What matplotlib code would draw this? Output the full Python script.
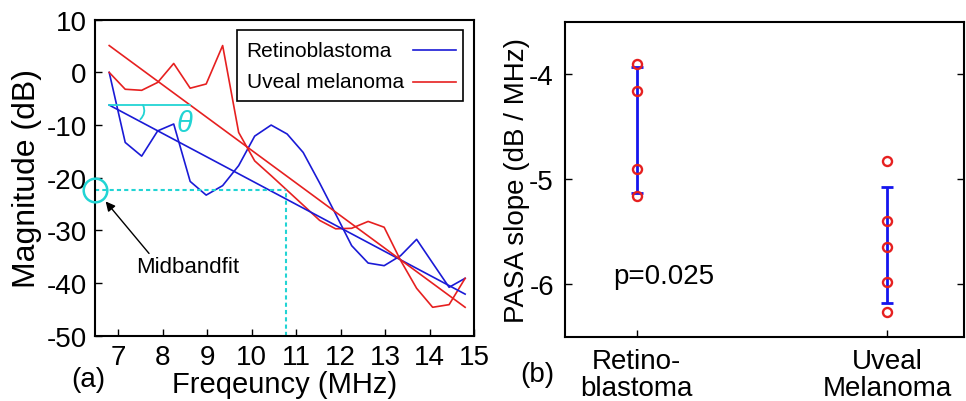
import numpy as np
import matplotlib
matplotlib.use('Agg')
import matplotlib.pyplot as plt
from matplotlib.patches import Rectangle

plt.rcParams['font.family'] = ['Liberation Sans', 'DejaVu Sans']
plt.rcParams['axes.unicode_minus'] = False

# (a) spectra, Magnitude (dB) vs frequency (MHz)
freq = [6.80, 7.16, 7.53, 7.89, 8.25, 8.62, 8.98, 9.35, 9.71, 10.07, 10.44, 10.80,
        11.16, 11.53, 11.89, 12.25, 12.62, 12.98, 13.35, 13.71, 14.07, 14.44, 14.80]
retino = [0.0, -13.3, -15.9, -11.1, -9.8, -20.7, -23.3, -21.5, -17.7, -12.1, -10.0, -11.7,
          -15.2, -21.0, -26.9, -32.9, -36.2, -36.7, -34.8, -31.7, -36.2, -40.8, -39.1]
uveal = [0.0, -3.2, -3.4, -1.9, 1.7, -3.0, -2.2, 5.1, -11.4, -16.8, -19.6, -22.4,
         -25.2, -28.1, -29.7, -29.6, -28.3, -29.4, -35.7, -41.0, -44.6, -44.1, -39.1]
fit_x = [6.8, 14.8]
retino_fit = [-6.2, -42.1]
uveal_fit = [5.1, -44.6]
mid_freq = 10.78
mid_val = -22.3
series_names = ['Retinoblastoma', 'Uveal melanoma']

# (b) PASA slopes (dB / MHz)
groups = ['Retino-\nblastoma', 'Uveal\nMelanoma']
retino_slopes = [-3.90, -4.16, -4.90, -5.16]
uveal_slopes = [-4.83, -5.40, -5.64, -5.98, -6.26]

blue = '#1a1ad6'
red = '#e62020'
cyan = '#22d4d4'

fig = plt.figure(figsize=(9.66, 4.02), dpi=100)
ax1 = fig.add_axes([0.0983, 0.1624, 0.3924, 0.786])
ax2 = fig.add_axes([0.5849, 0.1592, 0.4130, 0.7843])

# ---- panel (a)
ax1.plot(freq, retino, color=blue, lw=1.2)
ax1.plot(freq, uveal, color=red, lw=1.2)
ax1.plot(fit_x, retino_fit, color=blue, lw=1.2)
ax1.plot(fit_x, uveal_fit, color=red, lw=1.2)

# theta marker
ax1.plot([fit_x[0], 8.62], [retino_fit[0], retino_fit[0]], color=cyan, lw=1.3)
ax1.annotate('', xy=(7.50, -8.9), xytext=(7.56, retino_fit[0]),
             arrowprops=dict(arrowstyle='-', color=cyan, lw=1.3,
                             shrinkA=0, shrinkB=0,
                             connectionstyle='arc3,rad=-0.35'))
ax1.text(8.5, -9.6, 'θ', color=cyan, fontsize=21, fontstyle='italic',
         ha='center', va='center')

# midband fit
ax1.plot([6.48, mid_freq], [mid_val, mid_val], color=cyan, lw=1.5, ls=(0, (2, 1.5)))
ax1.plot([mid_freq, mid_freq], [-50, mid_val], color=cyan, lw=1.5, ls=(0, (2, 1.5)))
ax1.plot([6.47], [mid_val], marker='o', ms=17, mfc='none', mec=cyan, mew=1.8,
         clip_on=False, zorder=5)
ax1.annotate('Midbandfit', xy=(6.72, -24.5), xytext=(7.40, -36.9),
             fontsize=16, ha='left', va='center',
             arrowprops=dict(arrowstyle='-|>', color='black', lw=1,
                             shrinkA=0, shrinkB=0, mutation_scale=14,
                             relpos=(0.15, 1.0)))

# legend drawn by hand: text left, line sample right
ax1.add_patch(Rectangle((0.376, 0.744), 0.594, 0.223, transform=ax1.transAxes,
                        fill=True, fc='white', ec='black', lw=1.2, zorder=6))
for i, (name, col) in enumerate(zip(series_names, [blue, red])):
    yy = 0.904 - i * 0.1
    ax1.text(0.400, yy, name, transform=ax1.transAxes, fontsize=15,
             ha='left', va='center', zorder=7)
    ax1.plot([0.838, 0.952], [yy, yy], transform=ax1.transAxes, color=col,
             lw=1.2, zorder=7)

ax1.set_xlim(6.48, 15.0)
ax1.set_ylim(-50, 10)
ax1.set_xticks(range(7, 16))
ax1.set_yticks(range(-50, 11, 10))
ax1.tick_params(direction='in', labelsize=20, length=5, width=1, right=False, pad=6)
ax1.set_xlabel('Freqeuncy (MHz)', fontsize=21, labelpad=0)
ax1.set_ylabel('Magnitude (dB)', fontsize=23)
ax1.yaxis.set_label_coords(-0.14, 0.5)
for s in ax1.spines.values():
    s.set_linewidth(1.5)

# ---- panel (b)
xs = [1, 2]
for x, vals in zip(xs, [retino_slopes, uveal_slopes]):
    m = np.mean(vals)
    sd = np.std(vals, ddof=1)
    ax2.errorbar([x], [m], yerr=[sd], color='#1515ee', lw=2, capsize=4, capthick=2,
                 fmt='none', zorder=2)
    ax2.plot([x] * len(vals), vals, ls='none', marker='o', ms=6.5, mfc='none',
             mec=red, mew=1.7, zorder=3)

ax2.text(0.906, -5.92, 'p=0.025', fontsize=20, ha='left', va='center')
ax2.set_xlim(0.714, 2.306)
ax2.set_ylim(-6.5, -3.5)
ax2.set_xticks(xs)
ax2.set_xticklabels(groups, fontsize=20, linespacing=1.05)
ax2.set_yticks([-6, -5, -4])
ax2.tick_params(direction='in', labelsize=20, length=5, width=1, right=True, pad=8)
ax2.set_ylabel('PASA slope (dB / MHz)', fontsize=20)
ax2.yaxis.set_label_coords(-0.088, 0.5)
for s in ax2.spines.values():
    s.set_linewidth(1.5)

fig.text(0.091, 0.055, '(a)', fontsize=20, ha='center', va='center')
fig.text(0.556, 0.067, '(b)', fontsize=20, ha='center', va='center')

fig.savefig('out.png', dpi=100)
